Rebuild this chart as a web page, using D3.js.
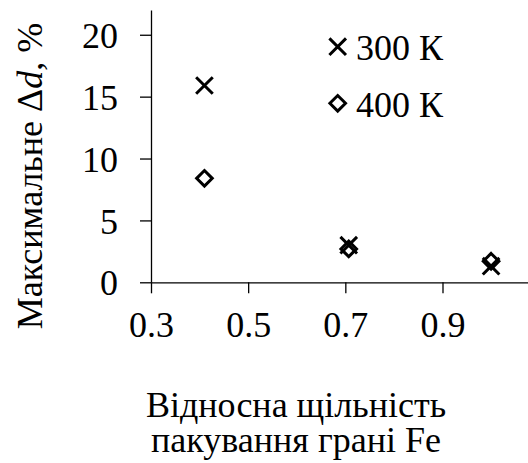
<!DOCTYPE html>
<html>
<head>
<meta charset="utf-8">
<script src="https://cdn.jsdelivr.net/npm/d3@7"></script>
<style>
  html, body { margin: 0; padding: 0; background: #fff; }
  svg { display: block; }
</style>
</head>
<body>
<svg id="chart" width="528" height="463"></svg>
<script>
// Relative packing density of the Fe face
const packing = [0.41, 0.707, 1.0];
// Maximum Δd, % at each temperature
const dev300 = [15.9, 3.0, 1.3];
const dev400 = [8.4, 2.7, 1.7];
const xTicks = [0.3, 0.5, 0.7, 0.9];
const yTicks = [0, 5, 10, 15, 20];
const seriesNames = ["300 К", "400 К"];

const serif = "Liberation Serif";
const fontSize = 36;

const svg = d3.select("#chart");

const x = d3.scaleLinear().domain([0.3, 1.076]).range([151, 528]);
const y = d3.scaleLinear().domain([0, 22]).range([282.3, 10]);

// Axes
const xAxis = d3.axisBottom(x).tickValues(xTicks).tickSize(11).tickSizeOuter(0)
  .tickFormat(d3.format(".1f"));
const yAxis = d3.axisLeft(y).tickValues(yTicks).tickSize(11).tickSizeOuter(0)
  .tickFormat(d3.format("d"));

const gx = svg.append("g").attr("transform", `translate(0,${y(0)})`).call(xAxis);
const gy = svg.append("g").attr("transform", `translate(${x(0.3)},0)`).call(yAxis);

[gx, gy].forEach(g => {
  g.attr("font-family", null).attr("font-size", null);
  g.select(".domain").attr("stroke", "#000").attr("stroke-width", 1.3);
  g.selectAll(".tick line").attr("stroke", "#000").attr("stroke-width", 1.3);
  g.selectAll(".tick text").attr("fill", "#000")
    .attr("font-family", serif).attr("font-size", fontSize);
});
gx.selectAll(".tick text").attr("y", 0).attr("dy", 54.5);
gy.selectAll(".tick text").attr("x", -33).attr("dy", "0.35em");

// Marker shapes
const crossPath = r => `M${-r},${-r}L${r},${r}M${-r},${r}L${r},${-r}`;
const diamondPath = r => `M0,${-r}L${r},0L0,${r}L${-r},0Z`;

function drawCross(g, cx, cy) {
  g.append("path").attr("d", crossPath(8.3))
    .attr("transform", `translate(${cx},${cy})`)
    .attr("fill", "none").attr("stroke", "#000").attr("stroke-width", 3);
}
function drawDiamond(g, cx, cy) {
  g.append("path").attr("d", diamondPath(7.8))
    .attr("transform", `translate(${cx},${cy})`)
    .attr("fill", "none").attr("stroke", "#000").attr("stroke-width", 3)
    .attr("stroke-linejoin", "miter");
}

const marks = svg.append("g");
packing.forEach((p, i) => drawCross(marks, x(p), y(dev300[i])));
packing.forEach((p, i) => drawDiamond(marks, x(p), y(dev400[i])));

// Legend
const legend = svg.append("g");
drawCross(legend, 337.7, 46.7);
drawDiamond(legend, 337.7, 103.3);
legend.append("text").attr("x", 356).attr("y", 60)
  .attr("font-family", serif).attr("font-size", fontSize).text(seriesNames[0]);
legend.append("text").attr("x", 356).attr("y", 117)
  .attr("font-family", serif).attr("font-size", fontSize).text(seriesNames[1]);

// Axis titles
const yTitle = svg.append("text")
  .attr("transform", "translate(42,176) rotate(-90)")
  .attr("text-anchor", "middle")
  .attr("font-family", serif).attr("font-size", fontSize);
yTitle.append("tspan").text("Максимальне Δ");
yTitle.append("tspan").attr("font-style", "italic").text("d");
yTitle.append("tspan").text(", %");

svg.append("text").attr("text-anchor", "middle")
  .attr("font-family", serif).attr("font-size", fontSize)
  .attr("x", 296).attr("y", 417).text("Відносна щільність");
svg.append("text").attr("text-anchor", "middle")
  .attr("font-family", serif).attr("font-size", fontSize)
  .attr("x", 296).attr("y", 452).text("пакування грані Fe");
</script>
</body>
</html>
